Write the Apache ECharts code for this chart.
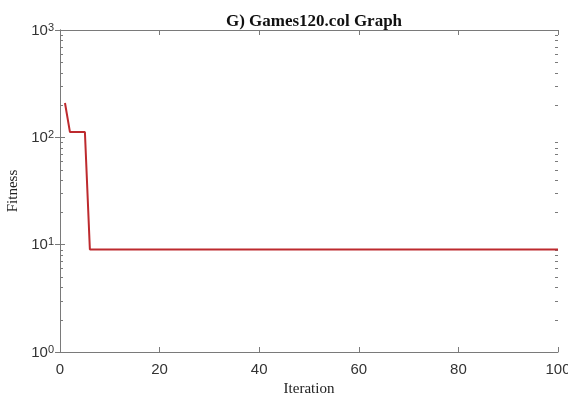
<!DOCTYPE html>
<html>
<head>
<meta charset="utf-8">
<script src="https://cdn.jsdelivr.net/npm/echarts@6/dist/echarts.min.js"></script>
<style>
  html, body { margin: 0; padding: 0; background: #ffffff; }
  #chart { width: 568px; height: 396px; }
</style>
</head>
<body>
<div id="chart"></div>
<script>
// Best fitness per iteration (only the points where the curve changes)
const iterations = [1, 2, 5, 6, 100];
const fitness = [209, 112, 112, 9, 9];

// Axis ranges and tick settings
const xTicks = [0, 20, 40, 60, 80, 100];
const yDecades = [1, 10, 100, 1000];
// Minor tick values between decades (2..9 times each power of ten)
const yMinor = [2, 3, 4, 5, 6, 7, 8, 9, 20, 30, 40, 50, 60, 70, 80, 90, 200, 300, 400, 500, 600, 700, 800, 900];

const axisColor = '#7a7a7a';
const sansFont = '"Liberation Sans", Arial, sans-serif';
const serifFont = '"Liberation Serif", "Times New Roman", serif';

const chart = echarts.init(document.getElementById('chart'), null, { renderer: 'canvas' });

const seriesData = iterations.map((x, i) => [x, fitness[i]]);

function axisLineStyle() {
  return { show: true, lineStyle: { color: axisColor, width: 1 } };
}

const option = {
  backgroundColor: '#ffffff',
  animation: false,
  title: {
    text: 'G) Games120.col Graph',
    left: 309,
    textAlign: 'center',
    top: 8,
    textStyle: { fontFamily: serifFont, fontWeight: 'bold', fontSize: 17, color: '#111' }
  },
  grid: { left: 60, right: 10, top: 30, bottom: 44, containLabel: false, outerBoundsMode: 'none' },
  xAxis: [
    {
      type: 'value',
      min: xTicks[0],
      max: xTicks[xTicks.length - 1],
      interval: xTicks[1] - xTicks[0],
      position: 'bottom',
      name: 'Iteration',
      nameLocation: 'middle',
      nameGap: 28,
      nameTextStyle: { fontFamily: serifFont, fontSize: 15, color: '#222' },
      axisLine: axisLineStyle(),
      axisTick: { show: true, inside: true, length: 5, lineStyle: { color: axisColor } },
      axisLabel: { fontFamily: sansFont, fontSize: 15, color: '#333', margin: 10 },
      splitLine: { show: false }
    },
    {
      type: 'value',
      min: xTicks[0],
      max: xTicks[xTicks.length - 1],
      interval: xTicks[1] - xTicks[0],
      position: 'top',
      axisLine: axisLineStyle(),
      axisTick: { show: true, inside: true, length: 5, lineStyle: { color: axisColor } },
      axisLabel: { show: false },
      splitLine: { show: false }
    }
  ],
  yAxis: [
    {
      type: 'log',
      logBase: 10,
      min: yDecades[0],
      max: yDecades[yDecades.length - 1],
      position: 'left',
      name: 'Fitness',
      nameLocation: 'middle',
      nameGap: 38,
      nameRotate: 90,
      nameTextStyle: { fontFamily: serifFont, fontSize: 15, color: '#222' },
      axisLine: axisLineStyle(),
      axisTick: { show: true, inside: true, length: 5, lineStyle: { color: axisColor } },
      axisLabel: {
        margin: 6,
        formatter: function (v) {
          const e = Math.round(Math.log10(v));
          return '{b|10}{s|' + e + '}';
        },
        rich: {
          b: { fontFamily: sansFont, fontSize: 15, color: '#333', verticalAlign: 'bottom', lineHeight: 16 },
          s: { fontFamily: sansFont, fontSize: 11, color: '#333', verticalAlign: 'top', lineHeight: 16, padding: [0, 0, 8, 0] }
        }
      },
      splitLine: { show: false }
    },
    {
      type: 'log',
      logBase: 10,
      min: yDecades[0],
      max: yDecades[yDecades.length - 1],
      position: 'right',
      axisLine: axisLineStyle(),
      axisTick: { show: true, inside: true, length: 5, lineStyle: { color: axisColor } },
      axisLabel: { show: false },
      splitLine: { show: false }
    }
  ],
  series: [
    {
      // Minor ticks on the left and right log axes
      type: 'custom',
      xAxisIndex: 0,
      yAxisIndex: 0,
      silent: true,
      z: 1,
      data: yMinor.map(v => [0, v]),
      encode: { x: 0, y: 1 },
      renderItem: function (params, api) {
        const pt = api.coord([0, api.value(1)]);
        const cs = params.coordSys;
        const y = Math.round(pt[1]) + 0.5;
        const style = { stroke: axisColor, lineWidth: 1 };
        return {
          type: 'group',
          children: [
            { type: 'line', shape: { x1: cs.x, y1: y, x2: cs.x + 3, y2: y }, style: style },
            { type: 'line', shape: { x1: cs.x + cs.width - 3, y1: y, x2: cs.x + cs.width, y2: y }, style: style }
          ]
        };
      }
    },
    {
      type: 'line',
      xAxisIndex: 0,
      yAxisIndex: 0,
      data: seriesData,
      showSymbol: false,
      z: 3,
      lineStyle: { color: '#bd2a2e', width: 2 }
    }
  ]
};

chart.setOption(option);
</script>
</body>
</html>
